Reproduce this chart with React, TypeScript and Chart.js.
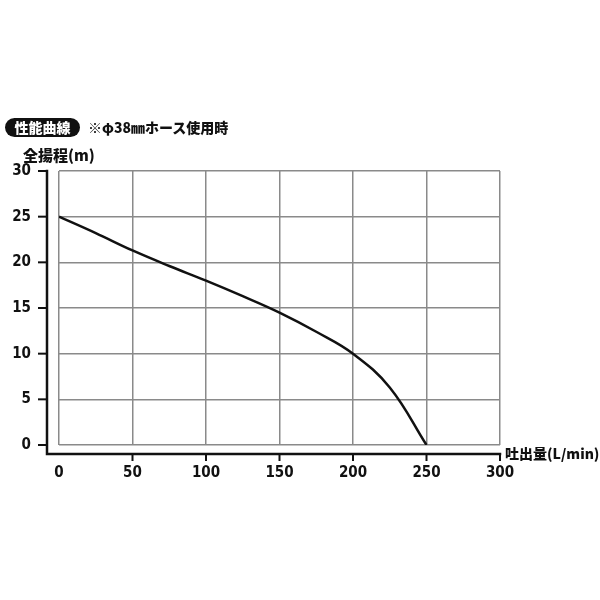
import { Chart, registerables } from 'chart.js'
import { useEffect, useRef } from 'react'

Chart.register(...registerables)

// 吐出量 (L/min) と 全揚程 (m)
const flow = [0, 25, 50, 75, 100, 125, 150, 175, 200, 225, 250]
const head = [25, 23.2, 21.3, 19.6, 18, 16.3, 14.5, 12.4, 10, 6.3, 0]

const xTicks = [0, 50, 100, 150, 200, 250, 300]
const yTicks = [0, 5, 10, 15, 20, 25, 30]

const tickFont = {
  family: "'DejaVu Sans', 'Liberation Sans', sans-serif",
  weight: 'bold condensed' as any,
  size: 15,
}
const jpFont = "'Noto Sans CJK JP', 'Noto Sans', sans-serif"

// black L-shaped axes drawn a little away from the grid box
const offsetAxes = {
  id: 'offsetAxes',
  afterDraw(chart: any) {
    const { ctx, chartArea, scales } = chart
    const ax = chartArea.left - 12
    const ay = chartArea.bottom + 9
    ctx.save()
    ctx.strokeStyle = '#111'
    ctx.lineWidth = 2.5
    ctx.lineCap = 'square'
    ctx.beginPath()
    ctx.moveTo(ax, chartArea.top)
    ctx.lineTo(ax, ay)
    ctx.lineTo(chartArea.right, ay)
    ctx.stroke()
    ctx.lineWidth = 2
    ctx.lineCap = 'butt'
    yTicks.forEach((v) => {
      const py = scales.y.getPixelForValue(v)
      ctx.beginPath()
      ctx.moveTo(ax - 9, py)
      ctx.lineTo(ax, py)
      ctx.stroke()
    })
    xTicks.forEach((v) => {
      if (v === 0) return
      const px = scales.x.getPixelForValue(v)
      ctx.beginPath()
      ctx.moveTo(px, ay)
      ctx.lineTo(px, ay + 7)
      ctx.stroke()
    })
    ctx.restore()
  },
}

function PumpCurve() {
  const canvasRef = useRef<HTMLCanvasElement>(null)
  const chartRef = useRef<Chart | null>(null)

  useEffect(() => {
    if (chartRef.current) chartRef.current.destroy()
    const ctx = canvasRef.current!.getContext('2d')!
    chartRef.current = new Chart(ctx, {
      type: 'line',
      data: {
        datasets: [
          {
            data: flow.map((x, i) => ({ x, y: head[i] })),
            borderColor: '#111',
            borderWidth: 2.5,
            pointRadius: 0,
            tension: 0.4,
            fill: false,
          },
        ],
      },
      options: {
        animation: false,
        responsive: true,
        maintainAspectRatio: false,
        layout: { padding: { top: 171, right: 100, left: 0, bottom: 0 } },
        plugins: {
          legend: { display: false },
          tooltip: { enabled: false },
        },
        scales: {
          x: {
            type: 'linear',
            min: 0,
            max: 300,
            afterBuildTicks: (s: any) => {
              s.ticks = xTicks.map((value) => ({ value }))
            },
            afterFit: (s: any) => {
              s.height = 155
            },
            ticks: { font: tickFont, color: '#111', padding: 19, maxRotation: 0 },
            grid: { color: '#8a8a8a', lineWidth: 1.5, drawTicks: false },
            border: { display: false },
          },
          y: {
            type: 'linear',
            min: 0,
            max: 30,
            afterBuildTicks: (s: any) => {
              s.ticks = yTicks.map((value) => ({ value }))
            },
            afterFit: (s: any) => {
              s.width = 59
            },
            ticks: { font: tickFont, color: '#111', padding: 28 },
            grid: { color: '#8a8a8a', lineWidth: 1.5, drawTicks: false },
            border: { display: false },
          },
        },
      },
      plugins: [offsetAxes],
    })
    return () => {
      chartRef.current?.destroy()
      chartRef.current = null
    }
  }, [])

  return <canvas ref={canvasRef} />
}

export default function App() {
  return (
    <div
      style={{
        position: 'absolute',
        left: 0,
        top: 0,
        width: 600,
        height: 600,
        background: '#fff',
        fontFamily: jpFont,
        color: '#111',
      }}
    >
      <PumpCurve />
      <div
        style={{
          position: 'absolute',
          left: 5,
          top: 118,
          width: 75,
          height: 19,
          borderRadius: 10,
          background: '#111',
          color: '#fff',
          fontWeight: 900,
          fontSize: 14,
          lineHeight: '19px',
          textAlign: 'center',
        }}
      >
        性能曲線
      </div>
      <div
        style={{
          position: 'absolute',
          left: 88,
          top: 117,
          fontWeight: 900,
          fontSize: 14,
          lineHeight: '20px',
          whiteSpace: 'nowrap',
        }}
      >
        ※φ38㎜ホース使用時
      </div>
      <div
        style={{
          position: 'absolute',
          left: 23,
          top: 145,
          fontWeight: 900,
          fontSize: 15,
          lineHeight: '20px',
          whiteSpace: 'nowrap',
        }}
      >
        全揚程(m)
      </div>
      <div
        style={{
          position: 'absolute',
          left: 505,
          top: 443,
          fontWeight: 900,
          fontSize: 14,
          lineHeight: '20px',
          whiteSpace: 'nowrap',
        }}
      >
        吐出量(L/min)
      </div>
    </div>
  )
}
